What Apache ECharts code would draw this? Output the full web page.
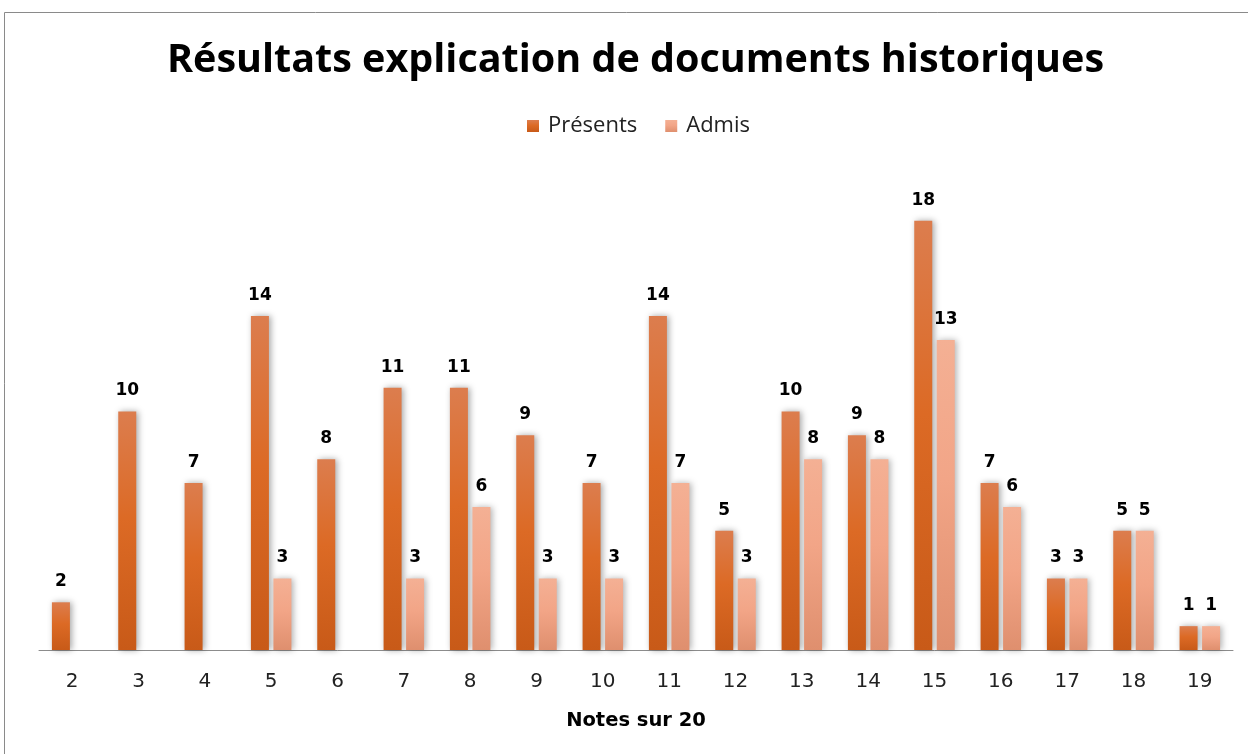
<!DOCTYPE html>
<html>
<head>
<meta charset="utf-8">
<script src="https://cdn.jsdelivr.net/npm/echarts@6/dist/echarts.min.js"></script>
<style>
  html, body { margin: 0; padding: 0; background: #fff; }
  #chart { width: 1248px; height: 754px; }
</style>
</head>
<body>
<div id="chart"></div>
<script>
// données
var notes = ['2', '3', '4', '5', '6', '7', '8', '9', '10', '11', '12', '13', '14', '15', '16', '17', '18', '19'];
var presents = [2, 10, 7, 14, 8, 11, 11, 9, 7, 14, 5, 10, 9, 18, 7, 3, 5, 1];
var admis = ['-', '-', '-', 3, '-', 3, 6, 3, 3, 7, 3, 8, 8, 13, 6, 3, 5, 1];

var myChart = echarts.init(document.getElementById('chart'));

function grad(top, mid, bottom) {
    return new echarts.graphic.LinearGradient(0, 0, 0, 1, [
        {offset: 0, color: top},
        {offset: 0.45, color: mid},
        {offset: 1, color: bottom}
    ]);
}

var labelStyle = {
    show: true,
    position: 'top',
    distance: 12,
    color: '#000',
    fontWeight: 'bold',
    fontSize: 17,
    fontFamily: 'DejaVu Sans'
};

var options = {
    backgroundColor: '#fff',
    animation: false,
    title: {
        text: 'Résultats explication de documents historiques',
        left: 162,
        top: 36,
        textStyle: {
            color: '#000',
            fontSize: 39.5,
            fontWeight: 'bold',
            fontFamily: 'Open Sans'
        }
    },
    legend: {
        data: ['Présents', 'Admis'],
        top: 110,
        left: 522,
        itemWidth: 12,
        itemHeight: 12,
        itemGap: 28,
        icon: 'rect',
        textStyle: {
            color: '#222',
            fontSize: 22,
            fontFamily: 'Open Sans',
            padding: [0, 0, 0, 4]
        }
    },
    grid: {
        left: 39,
        right: 15,
        top: 173,
        bottom: 104
    },
    xAxis: {
        type: 'category',
        data: notes,
        name: 'Notes sur 20',
        nameLocation: 'middle',
        nameGap: 61,
        nameTextStyle: {
            color: '#000',
            fontWeight: 'bold',
            fontSize: 19.5,
            fontFamily: 'DejaVu Sans'
        },
        axisTick: {show: false},
        axisLine: {lineStyle: {color: '#8c8c8c', width: 1}},
        axisLabel: {
            margin: 22,
            color: '#222',
            fontSize: 20,
            fontFamily: 'DejaVu Sans'
        }
    },
    yAxis: {
        type: 'value',
        min: 0,
        max: 20,
        show: false,
        splitLine: {show: false}
    },
    series: [
        {
            name: 'Présents',
            type: 'bar',
            barWidth: 18,
            barGap: '25%',
            data: presents,
            label: labelStyle,
            itemStyle: {
                color: grad('#dc7d4e', '#dc6a25', '#c85a18'),
                shadowColor: 'rgba(0,0,0,0.35)',
                shadowBlur: 6,
                shadowOffsetX: 2
            }
        },
        {
            name: 'Admis',
            type: 'bar',
            barWidth: 18,
            data: admis,
            label: labelStyle,
            itemStyle: {
                color: grad('#f4b094', '#f2a587', '#df8f6e'),
                shadowColor: 'rgba(0,0,0,0.3)',
                shadowBlur: 6,
                shadowOffsetX: 2
            }
        }
    ],
    graphic: [
        {
            type: 'polyline',
            silent: true,
            shape: {points: [[4.5, 754], [4.5, 12.5], [1248, 12.5]]},
            style: {stroke: '#8a8a8a', lineWidth: 1, fill: null}
        }
    ]
};

myChart.setOption(options);
</script>
</body>
</html>
